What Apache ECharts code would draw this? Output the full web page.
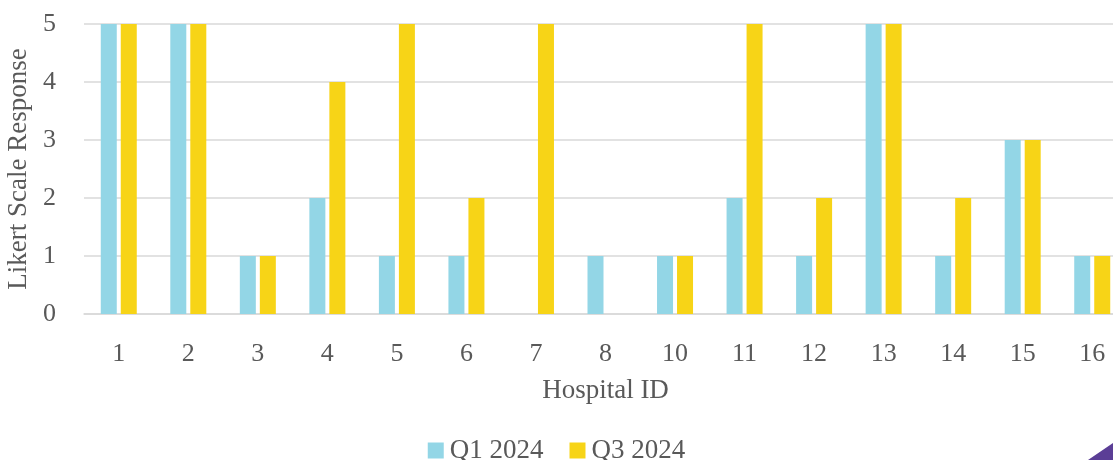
<!DOCTYPE html>
<html><head><meta charset="utf-8">
<script src="https://cdn.jsdelivr.net/npm/echarts@6/dist/echarts.min.js"></script>
<style>html,body{margin:0;padding:0;background:#fff}#c{width:1113px;height:460px}</style>
</head><body><div id="c"></div>
<script>
const categories = ['1','2','3','4','5','6','7','8','10','11','12','13','14','15','16'];
const q1_2024 = [5,5,1,2,1,1,0,1,1,2,1,5,1,3,1];
const q3_2024 = [5,5,1,4,5,2,5,0,1,5,2,5,2,3,1];
const yTicks = [0,1,2,3,4,5];

const font = '"Liberation Serif", "Palatino Linotype", "Book Antiqua", serif';
const grey = '#595959';
const chart = echarts.init(document.getElementById('c'));
chart.setOption({
  animation: false,
  textStyle: {fontFamily: font},
  grid: {left: 84, right: -14, top: 24, bottom: 146, containLabel: false, outerBoundsMode: 'none'},
  legend: {
    top: 432, left: 'center', itemWidth: 16, itemHeight: 16, itemGap: 26, icon: 'rect',
    textStyle: {fontFamily: font, fontSize: 27, color: grey, padding: [0,0,0,1]},
    data: ['Q1 2024','Q3 2024']
  },
  xAxis: {
    type: 'category', data: categories,
    name: 'Hospital ID', nameLocation: 'middle', nameGap: 63,
    nameTextStyle: {fontFamily: font, fontSize: 27, color: grey},
    axisLine: {lineStyle: {color: '#d9d9d9', width: 1.5}},
    axisTick: {show: false},
    axisLabel: {fontFamily: font, fontSize: 26, color: grey, margin: 27}
  },
  yAxis: {
    type: 'value', min: 0, max: 5, interval: 1,
    name: 'Likert Scale Response', nameLocation: 'middle', nameGap: 37, nameRotate: 90,
    nameTextStyle: {fontFamily: font, fontSize: 27, color: grey},
    axisLine: {show: false}, axisTick: {show: false},
    axisLabel: {fontFamily: font, fontSize: 26, color: grey, margin: 28,
      formatter: v => yTicks.includes(v) ? String(v) : ''},
    splitLine: {lineStyle: {color: '#d9d9d9', width: 1.5}}
  },
  series: [
    {name: 'Q1 2024', type: 'bar', data: q1_2024, barWidth: 16, barGap: '25%',
     itemStyle: {color: '#93D6E6'}},
    {name: 'Q3 2024', type: 'bar', data: q3_2024, barWidth: 16,
     itemStyle: {color: '#F7D417'}}
  ],
  graphic: [{type: 'polygon', shape: {points: [[1088,460],[1113,443],[1113,460]]},
    style: {fill: '#5B3E96'}}]
});
</script></body></html>
